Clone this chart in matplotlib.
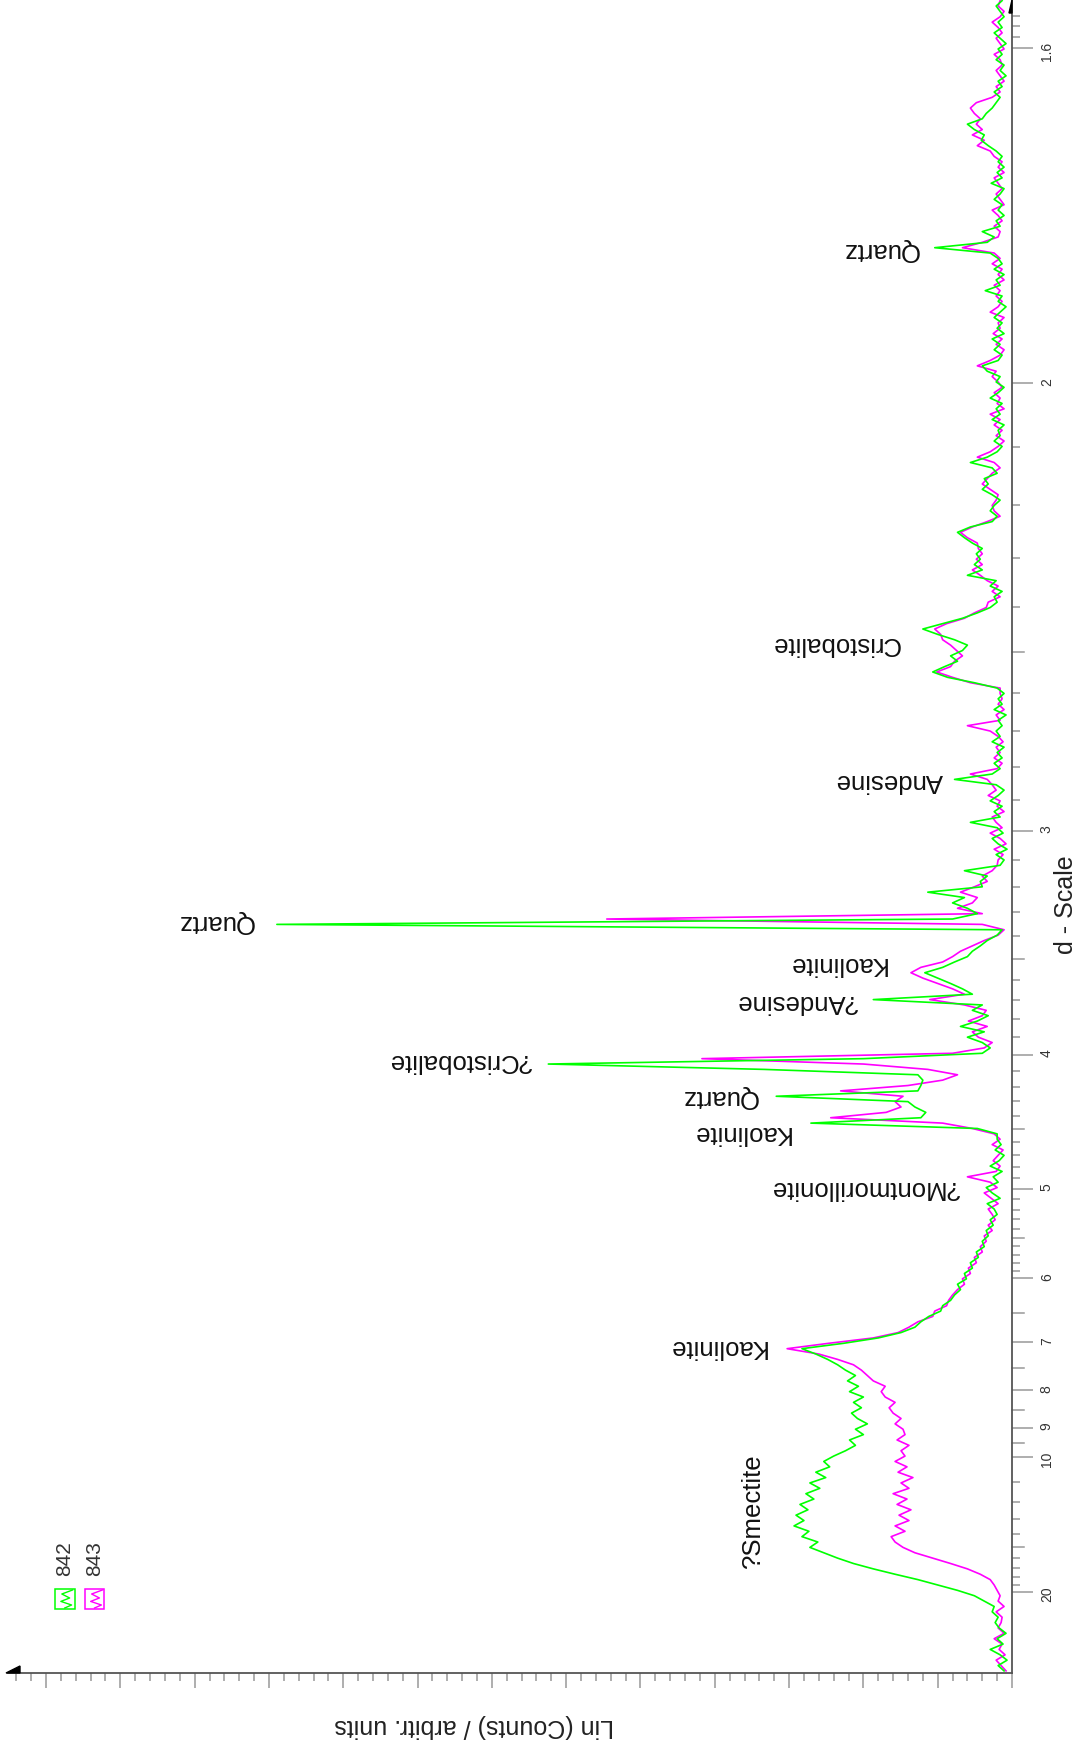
import numpy as np
import matplotlib
matplotlib.use('Agg')
import matplotlib.pyplot as plt
from matplotlib.ticker import MultipleLocator, FixedLocator
from matplotlib.patches import Rectangle, Polygon

plt.rcParams['font.family'] = ['Liberation Sans', 'DejaVu Sans']

# XRD patterns, intensity (arbitrary counts) sampled every 0.002 1/A in 1/d
# sample 842 (green)
counts_842 = [
    8, 14, 5, 12, 22, 9, 15, 6, 13, 17,
    14, 20, 18, 28, 38, 55, 75, 95, 118, 140,
    160, 176, 190, 204, 196, 212, 205, 220, 210, 218,
    206, 214, 200, 208, 194, 204, 188, 198, 184, 190,
    180, 168, 158, 164, 150, 158, 146, 156, 162, 152,
    160, 150, 164, 155, 166, 158, 168, 176, 186, 198,
    212, 170, 135, 112, 98, 92, 84, 72, 70, 62,
    58, 52, 55, 46, 48, 40, 42, 34, 36, 28,
    30, 24, 26, 19, 22, 15, 18, 25, 12, 20,
    26, 14, 19, 10, 22, 13, 8, 17, 11, 15,
    15, 35, 203, 92, 87, 98, 105, 238, 95, 92,
    90, 95, 250, 468, 150, 30, 22, 30, 45, 28,
    52, 35, 24, 40, 30, 140, 40, 50, 62, 75,
    88, 70, 58, 45, 40, 32, 25, 15, 10, 742,
    60, 35, 45, 60, 48, 85, 30, 32, 25, 48,
    12, 8, 16, 5, 14, 20, 9, 15, 42, 12,
    18, 10, 22, 14, 8, 16, 58, 20, 12, 18,
    10, 15, 8, 20, 12, 16, 10, 14, 6, 18,
    10, 14, 8, 15, 38, 65, 80, 68, 55, 62,
    50, 45, 58, 75, 90, 70, 50, 35, 22, 15,
    18, 10, 22, 16, 45, 30, 38, 32, 36, 30,
    40, 48, 55, 42, 20, 15, 22, 18, 12, 20,
    30, 24, 28, 15, 20, 42, 25, 15, 10, 18,
    12, 14, 8, 20, 12, 16, 10, 22, 14, 8,
    16, 12, 25, 30, 14, 10, 18, 12, 20, 8,
    15, 10, 18, 12, 6, 14, 10, 27, 12, 16,
    8, 18, 10, 14, 22, 78, 25, 18, 30, 12,
    16, 8, 14, 10, 18, 12, 8, 21, 10, 15,
    8, 14, 10, 16, 24, 31, 28, 38, 45, 30,
    26, 20, 16, 12, 18, 10, 14, 6, 12, 8,
    16, 10, 14, 6, 12, 18, 10, 14, 8, 12,
    16, 10,
]

# sample 843 (magenta)
counts_843 = [
    6, 11, 16, 7, 13, 10, 18, 8, 14, 11,
    10, 16, 8, 14, 12, 15, 18, 22, 32, 45,
    62, 80, 98, 110, 118, 122, 108, 118, 104, 114,
    102, 116, 106, 120, 104, 112, 100, 115, 106, 118,
    108, 112, 104, 116, 108, 110, 118, 112, 120, 124,
    118, 128, 132, 128, 140, 146, 152, 160, 176, 195,
    227, 185, 140, 115, 104, 95, 80, 78, 66, 64,
    60, 55, 48, 50, 42, 44, 36, 38, 30, 32,
    26, 28, 20, 24, 17, 20, 24, 14, 21, 28,
    15, 22, 45, 16, 12, 19, 14, 9, 20, 12,
    18, 40, 70, 183, 127, 112, 118, 110, 173, 105,
    70, 55, 85, 150, 313, 60, 28, 20, 34, 40,
    25, 44, 30, 26, 48, 83, 48, 60, 75, 90,
    102, 92, 70, 60, 52, 40, 28, 14, 8, 30,
    409, 30, 55, 40, 35, 52, 38, 25, 30, 20,
    15, 14, 9, 18, 6, 12, 22, 10, 16, 20,
    8, 15, 12, 24, 16, 20, 25, 42, 15, 10,
    18, 12, 16, 9, 14, 22, 45, 12, 16, 8,
    14, 10, 12, 12, 42, 60, 76, 62, 58, 50,
    56, 62, 70, 72, 78, 66, 48, 38, 26, 24,
    12, 20, 14, 25, 32, 40, 30, 36, 30, 34,
    35, 45, 52, 40, 25, 12, 18, 20, 16, 14,
    22, 30, 25, 20, 12, 18, 35, 22, 14, 8,
    16, 10, 18, 12, 22, 8, 15, 12, 18, 10,
    14, 20, 16, 35, 22, 12, 8, 16, 10, 19,
    12, 14, 8, 22, 14, 10, 16, 12, 18, 8,
    14, 10, 20, 12, 18, 50, 30, 14, 12, 18,
    10, 14, 20, 8, 12, 16, 10, 14, 18, 8,
    14, 10, 18, 22, 35, 28, 40, 30, 36, 32,
    38, 42, 36, 20, 12, 16, 8, 12, 16, 10,
    12, 18, 8, 12, 16, 10, 14, 20, 12, 8,
    14, 12,
]

inv_d = 0.0205 + 0.002 * np.arange(len(counts_842))

# peak labels: name, d-spacing (A), height of label centre (counts)
peak_names = ['Quartz', 'Cristobalite', 'Andesine', 'Quartz', 'Kaolinite', '?Andesine',
              '?Cristobalite', 'Quartz', 'Kaolinite', '?Montmorillonite', 'Kaolinite']
peak_d = [1.819, 2.482, 2.842, 3.340, 3.524, 3.709, 4.038, 4.269, 4.529, 4.99, 7.086]
peak_h = [133, 178, 124, 804, 177, 218, 558, 295, 274, 149, 298]

# d-scale ticks
major_d = [1.6, 2, 3, 4, 5, 6, 7, 8, 9, 10, 20]
major_lbl = ['1.6', '2', '3', '4', '5', '6', '7', '8', '9', '10', '20']
medium_d = [2.5, 3.5, 4.5, 5.5, 6.5, 7.5, 8.5, 9.5, 15]
minor_d = [1.57, 1.58, 1.59,
           2.1, 2.2, 2.3, 2.4, 2.6, 2.7, 2.8, 2.9,
           3.1, 3.2, 3.3, 3.4, 3.6, 3.7, 3.8, 3.9,
           4.1, 4.2, 4.3, 4.4, 4.6, 4.7, 4.8, 4.9,
           5.1, 5.2, 5.3, 5.4, 5.6, 5.7, 5.8, 5.9,
           11, 12, 13, 14, 16, 17, 18, 19]

legend_names = ['842', '843']
colors = ['#00ff00', '#ff00ff']

W, H = 1083, 1741
fig = plt.figure(figsize=(W / 100, H / 100), dpi=100)
ax = fig.add_axes([8 / W, (H - 1672.7) / H, 1004 / W, 1672.7 / H])

ax.plot(counts_843, inv_d, color=colors[1], lw=1.2)
ax.plot(counts_842, inv_d, color=colors[0], lw=1.2)

ax.set_xlim(1013.4, 0)
ax.set_ylim(0.019836, 0.64274)

for side in ['left', 'top']:
    ax.spines[side].set_visible(False)
for side in ['right', 'bottom']:
    ax.spines[side].set_color('#555555')
    ax.spines[side].set_linewidth(1.3)

ax.yaxis.tick_right()
ax.yaxis.set_major_locator(FixedLocator([1 / d for d in major_d]))
ax.yaxis.set_minor_locator(FixedLocator([1 / d for d in minor_d]))
ax.set_yticklabels(major_lbl)
ax.tick_params(axis='y', which='major', direction='out', length=15, width=1.1,
               color='#999999', labelsize=10, labelcolor='#333333', pad=5, labelrotation=90)
ax.tick_params(axis='y', which='minor', direction='out', length=5.8, width=1.1, color='#999999')
for d in medium_d:
    ax.plot([1, 1 + 12 / 1004], [1 / d, 1 / d], transform=ax.get_yaxis_transform(),
            color='#999999', lw=1.1, clip_on=False)

ax.xaxis.set_major_locator(MultipleLocator(75))
ax.xaxis.set_minor_locator(MultipleLocator(15))
ax.tick_params(axis='x', which='major', direction='out', length=11, width=1.1,
               color='#999999', labelbottom=False)
ax.tick_params(axis='x', which='minor', direction='out', length=5.8, width=1.1, color='#999999')

for name, d, h in zip(peak_names, peak_d, peak_h):
    ax.text(h, 1 / d, name, rotation=180, ha='center', va='center',
            rotation_mode='anchor', fontsize=18.5, color='#111111')
ax.text(261, 1 / 12.49, '?Smectite', rotation=90, ha='center', va='center',
        rotation_mode='anchor', fontsize=18.5, color='#111111')

fig.text(1066 / W, 1 - 905 / H, 'd - Scale', rotation=90, ha='center', va='center',
         fontsize=18, color='#222222')
fig.text(474.5 / W, 1 - 1726 / H, 'Lin (Counts) / arbitr. units', rotation=180,
         ha='center', va='center', fontsize=18, color='#222222')

# overlay in pixel coordinates for legend marks and axis arrows
ov = fig.add_axes([0, 0, 1, 1])
ov.set_xlim(0, W)
ov.set_ylim(H, 0)
ov.axis('off')

zig = [(0.9, 0.05), (0.35, 0.25), (0.75, 0.45), (0.3, 0.62), (0.85, 0.8), (0.5, 0.95)]
for k, (name, c) in enumerate(zip(legend_names, colors)):
    x0 = 55 + 29.8 * k
    ov.add_patch(Rectangle((x0, 1589), 19.5, 20, fill=False, ec=c, lw=1.1))
    ov.plot([x0 + fx * 19.5 for fx, fy in zig], [1589 + fy * 20 for fx, fy in zig],
            color=c, lw=1.0)
    ov.text(x0 + 10, 1559, name, rotation=90, ha='center', va='center',
            fontsize=15, color='#333333')

ov.add_patch(Polygon([(6, 1673), (20, 1666), (20, 1673)], closed=True, color='black'))
ov.add_patch(Polygon([(1012, 0), (1009, 13), (1012, 13)], closed=True, color='black'))

fig.savefig('out.png', dpi=100)
